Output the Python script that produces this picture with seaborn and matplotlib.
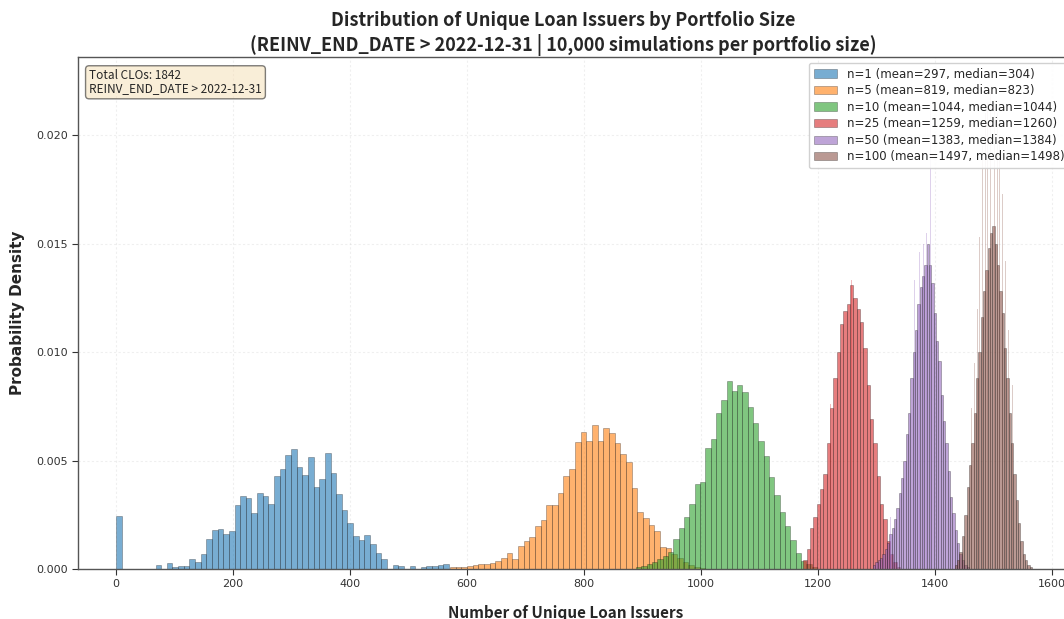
import numpy as np
import pandas as pd
import matplotlib
matplotlib.use("Agg")
import matplotlib.pyplot as plt
import seaborn as sns

# portfolio sizes and the summary numbers shown in the legend
PORTFOLIO_SIZES = [1, 5, 10, 25, 50, 100]
MEANS = [297, 819, 1044, 1259, 1383, 1497]
MEDIANS = [304, 823, 1044, 1260, 1384, 1498]

# histogram bins: first edge and bin width per portfolio size
BIN_START = [0, 571, 889, 1175, 1294, 1434]
BIN_WIDTH = [9.65, 9.7, 9.1, 5.7, 4.0, 4.0]

# density per bin
DENS_N1 = [0.00244, 0, 0, 0, 0, 0, 0, 0.00017, 0, 0.00028,
           0.00009, 0.00015, 0.00015, 0.00045, 0.00034, 0.00068, 0.00136, 0.00180, 0.00185, 0.00162,
           0.00174, 0.00293, 0.00336, 0.00327, 0.00259, 0.00349, 0.00338, 0.00298, 0.00429, 0.00461,
           0.00525, 0.00552, 0.00472, 0.00432, 0.00517, 0.00377, 0.00417, 0.00535, 0.00444, 0.00344,
           0.00270, 0.00213, 0.00153, 0.00134, 0.00157, 0.00114, 0.00073, 0.00048, 0, 0.00020,
           0.00014, 0, 0.00014, 0, 0.00008, 0.00014, 0.00014, 0.00020, 0.00025, 0]
DENS_N5 = [0.00008, 0.00008, 0.00010, 0.00012, 0.00020, 0.00023, 0.00023, 0.00026, 0.00037, 0.00051,
           0.00075, 0.00048, 0.00106, 0.00129, 0.00148, 0.00200, 0.00228, 0.00297, 0.00293, 0.00350,
           0.00427, 0.00461, 0.00585, 0.00632, 0.00592, 0.00663, 0.00592, 0.00648, 0.00629, 0.00582,
           0.00528, 0.00492, 0.00374, 0.00262, 0.00236, 0.00203, 0.00174, 0.00101, 0.00095, 0.00070,
           0.00050, 0.00030, 0.00018, 0.00010, 0.00005]
DENS_N10 = [0.00010, 0.00015, 0.00023, 0.00034, 0.00045, 0.00062, 0.00078, 0.00140, 0.00190, 0.00240,
            0.00300, 0.00390, 0.00402, 0.00560, 0.00600, 0.00720, 0.00780, 0.00865, 0.00820, 0.00850,
            0.00815, 0.00745, 0.00675, 0.00590, 0.00520, 0.00424, 0.00342, 0.00262, 0.00200, 0.00132,
            0.00073, 0.00039, 0.00023, 0.00010]
DENS_N25 = [0.0004, 0.0009, 0.0019, 0.0024, 0.0030, 0.0037, 0.0044, 0.0058, 0.0074, 0.0088,
            0.0100, 0.0113, 0.0119, 0.0122, 0.0131, 0.0125, 0.0120, 0.0114, 0.0102, 0.0085,
            0.0069, 0.0058, 0.0043, 0.0030, 0.0023, 0.0013, 0.0007, 0.0003, 0.0001]
DENS_N50 = [0.0002, 0.0003, 0.0004, 0.0005, 0.0007, 0.0009, 0.0012, 0.0016, 0.0019, 0.0023,
            0.0028, 0.0035, 0.0042, 0.0050, 0.0062, 0.0072, 0.0088, 0.0100, 0.0110, 0.0122,
            0.0130, 0.0135, 0.0140, 0.0150, 0.0140, 0.0132, 0.0118, 0.0105, 0.0096, 0.0080,
            0.0068, 0.0058, 0.0045, 0.0033, 0.0026, 0.0018, 0.0012, 0.0007, 0.0004, 0.0002,
            0.0001]
DENS_N100 = [0.0002, 0.0004, 0.0008, 0.0015, 0.0025, 0.0038, 0.0048, 0.0058, 0.0072, 0.0088,
             0.0100, 0.0116, 0.0128, 0.0138, 0.0148, 0.0155, 0.0158, 0.0150, 0.0140, 0.0128,
             0.0118, 0.0102, 0.0088, 0.0072, 0.0058, 0.0044, 0.0032, 0.0021, 0.0013, 0.0007,
             0.0004, 0.0002, 0.0001]
DENSITIES = [DENS_N1, DENS_N5, DENS_N10, DENS_N25, DENS_N50, DENS_N100]

# single tall bins sticking out of the narrow histograms
SPIKE_X_N25 = [1221, 1258]
SPIKE_Y_N25 = [0.0076, 0.0133]
SPIKE_X_N50 = [1324, 1365, 1373, 1380, 1386, 1393]
SPIKE_Y_N50 = [0.0024, 0.0133, 0.0146, 0.0150, 0.0155, 0.0215]
SPIKE_X_N100 = [1463, 1468, 1472, 1476, 1481, 1486, 1491, 1496, 1501, 1506, 1511, 1516, 1521, 1527, 1532]
SPIKE_Y_N100 = [0.0074, 0.0095, 0.0120, 0.0153, 0.0195, 0.0210, 0.0215, 0.0220, 0.0215, 0.0210,
                0.0200, 0.0173, 0.0142, 0.0110, 0.0085]
SPIKES = {3: (SPIKE_X_N25, SPIKE_Y_N25), 4: (SPIKE_X_N50, SPIKE_Y_N50), 5: (SPIKE_X_N100, SPIKE_Y_N100)}

TOTAL_CLOS = 1842
CUTOFF = "2022-12-31"

sns.set_theme(style="ticks")
plt.rcParams['font.family'] = ['DejaVu Sans']
narrow = ['Noto Sans CJK SC', 'DejaVu Sans']
colors = sns.color_palette("tab10", 6)

fig = plt.figure(figsize=(10.64, 6.19), dpi=100)
ax = fig.add_axes([78 / 1064, 50 / 619, 1009 / 1064, 512 / 619])

for i, n in enumerate(PORTFOLIO_SIZES):
    dens = DENSITIES[i]
    w = BIN_WIDTH[i]
    start = BIN_START[i]
    df = pd.DataFrame({
        "issuers": [start + w * (k + 0.5) for k in range(len(dens))],
        "density": dens,
    })
    label = f"n={n} (mean={MEANS[i]}, median={MEDIANS[i]})"
    sns.histplot(data=df, x="issuers", weights="density", binwidth=w,
                 binrange=(start, start + w * len(dens)), stat="count",
                 color=colors[i], alpha=0.6, edgecolor=(0, 0, 0, 0.45), linewidth=0.4,
                 label=label, ax=ax)
    if i in SPIKES:
        sdf = pd.DataFrame({"issuers": SPIKES[i][0], "density": SPIKES[i][1]})
        lo, hi = min(SPIKES[i][0]) - 0.9, max(SPIKES[i][0]) + 0.9
        sns.histplot(data=sdf, x="issuers", weights="density", binwidth=1.8,
                     binrange=(lo, hi), stat="count", color=colors[i],
                     alpha=0.3, linewidth=0, ax=ax)

ax.set_xlim(-65, 1660)
ax.set_ylim(0, 0.0236)
ax.set_xticks(range(0, 1601, 200))
ax.set_yticks([0, 0.005, 0.01, 0.015, 0.02])
ax.yaxis.set_major_formatter(matplotlib.ticker.FormatStrFormatter('%.3f'))
ax.tick_params(labelsize=8, length=4, width=0.8, colors='#333333')
ax.grid(True, linestyle=(0, (2, 2)), linewidth=0.8, alpha=0.3)
for side in ['left', 'bottom', 'top', 'right']:
    ax.spines[side].set_color('#555555')
    ax.spines[side].set_linewidth(1.0)

ax.set_ylabel("Probability Density", fontsize=11, fontweight='bold', labelpad=8)
ax.set_xlabel("Number of Unique Loan Issuers", fontsize=11, fontweight='bold',
              family=narrow)
ax.xaxis.set_label_coords((566 - 78) / 1009, -36 / 512)

fig.text(563 / 1064, 1 - 20 / 619, "Distribution of Unique Loan Issuers by Portfolio Size",
         ha='center', va='center', fontsize=13, fontweight='bold', family=narrow)
fig.text(563 / 1064, 1 - 45 / 619,
         f"(REINV_END_DATE > {CUTOFF} | 10,000 simulations per portfolio size)",
         ha='center', va='center', fontsize=13, fontweight='bold', family=narrow)

ax.text(0.011, 0.976, f"Total CLOs: {TOTAL_CLOS}\nREINV_END_DATE > {CUTOFF}",
        transform=ax.transAxes, va='top', ha='left', fontsize=8.5, family=narrow,
        linespacing=1.0,
        bbox=dict(boxstyle='round', facecolor='wheat', edgecolor='black', alpha=0.5))

ax.legend(loc='upper right', bbox_to_anchor=(1 - 12 / 1009, 1), fontsize=8.5,
          framealpha=0.9, labelspacing=0.3)

fig.savefig("out.png", dpi=100)
